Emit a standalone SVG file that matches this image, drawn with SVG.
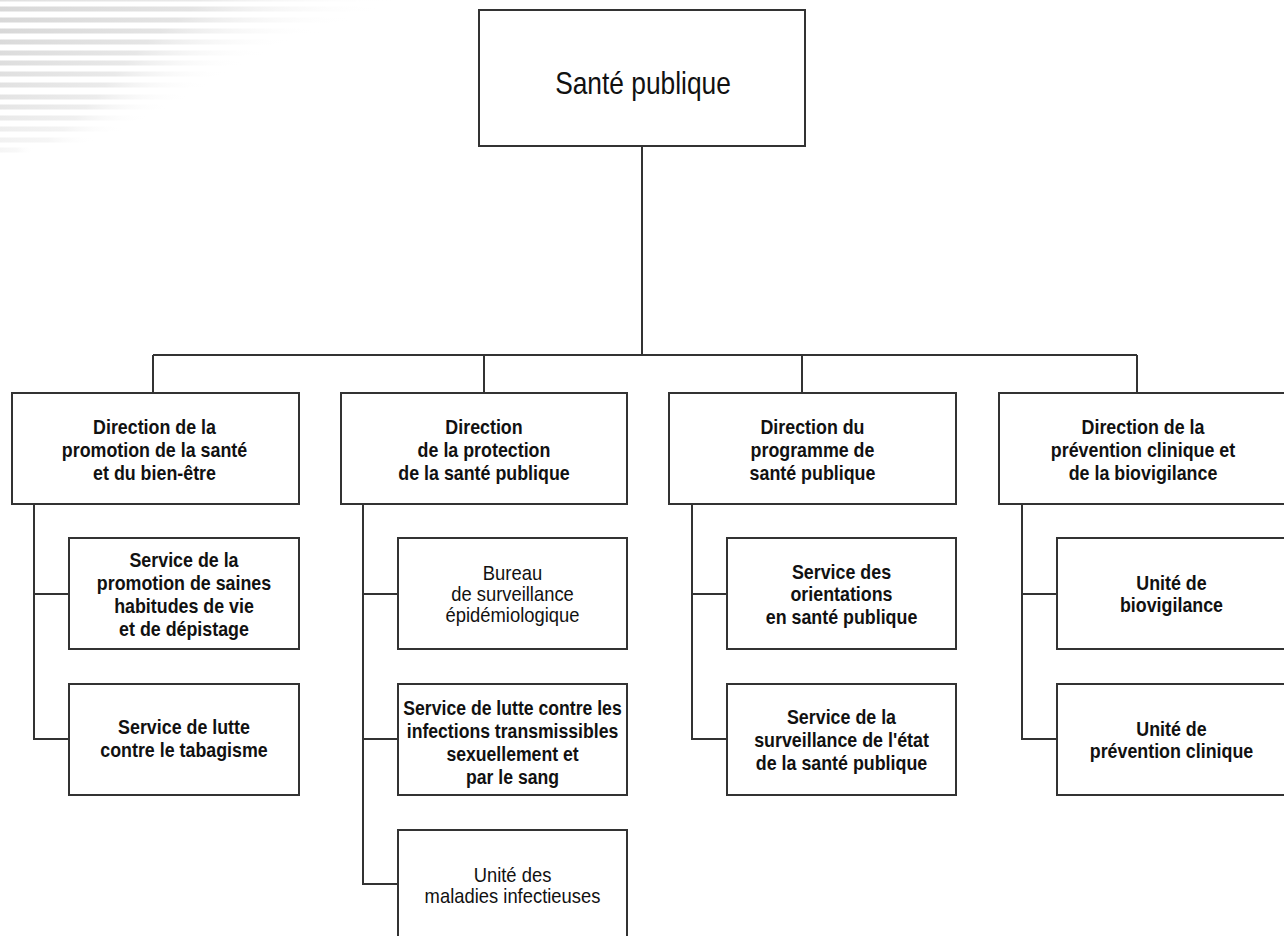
<svg xmlns="http://www.w3.org/2000/svg" width="1284" height="936" viewBox="0 0 1284 936">
<defs>
<linearGradient id="fade" x1="0" y1="0" x2="1" y2="0">
<stop offset="0" stop-color="#d8d8d8"/>
<stop offset="0.5" stop-color="#e4e4e4"/>
<stop offset="1" stop-color="#ffffff" stop-opacity="0"/>
</linearGradient>
<style>
.box{fill:#fff;stroke:#333;stroke-width:2}
.con{fill:none;stroke:#333;stroke-width:2}
.t{font-family:"Liberation Sans",Arial,sans-serif;fill:#111;text-anchor:middle}
.b{font-weight:bold;font-size:21px}
.r{font-size:20px}
.title{font-size:31px}
</style>
</defs>
<rect width="1284" height="936" fill="#fff"/>
<g id="stripes" fill="url(#fade)">
<rect x="0" y="0" width="400" height="1.5" opacity="0.8"/>
<rect x="0" y="6.5" width="385" height="5"/>
<rect x="0" y="17.5" width="355" height="5"/>
<rect x="0" y="28.5" width="322" height="5"/>
<rect x="0" y="39.5" width="294" height="5" opacity="0.95"/>
<rect x="0" y="50.5" width="270" height="5" opacity="0.9"/>
<rect x="0" y="60.5" width="250" height="5" opacity="0.85"/>
<rect x="0" y="71.5" width="230" height="5" opacity="0.8"/>
<rect x="0" y="82.5" width="210" height="5" opacity="0.75"/>
<rect x="0" y="94.5" width="192" height="5" opacity="0.7"/>
<rect x="0" y="104.5" width="172" height="5" opacity="0.65"/>
<rect x="0" y="115.5" width="150" height="5" opacity="0.55"/>
<rect x="0" y="126.5" width="126" height="5" opacity="0.45"/>
<rect x="0" y="137.5" width="96" height="5" opacity="0.35"/>
<rect x="0" y="147.5" width="34" height="5" opacity="0.25"/>
</g>
<g id="connectors" class="con">
<path d="M642 146V355M153 355H1137M153 355V393M484 355V393M802 355V393M1137 355V393"/>
<path d="M34 504V739H69M34 594H69"/>
<path d="M363 504V884H398M363 594H398M363 739H398"/>
<path d="M692 504V739H727M692 594H727"/>
<path d="M1022 504V739H1057M1022 594H1057"/>
</g>
<g id="n-sante">
<rect class="box" x="479" y="10" width="326" height="136"/>
<text class="t title" transform="matrix(0.85,0,0,1,643,0)"><tspan x="0" y="94">Santé publique</tspan></text>
</g>
<g id="n-dir1">
<rect class="box" x="12" y="393" width="287" height="111"/>
<text class="t b" transform="matrix(0.85,0,0,1,154.5,0)"><tspan x="0" y="434">Direction de la</tspan><tspan x="0" y="457">promotion de la santé</tspan><tspan x="0" y="480">et du bien-être</tspan></text>
</g>
<g id="n-dir2">
<rect class="box" x="341" y="393" width="286" height="111"/>
<text class="t b" transform="matrix(0.85,0,0,1,484,0)"><tspan x="0" y="434">Direction</tspan><tspan x="0" y="457">de la protection</tspan><tspan x="0" y="480">de la santé publique</tspan></text>
</g>
<g id="n-dir3">
<rect class="box" x="669" y="393" width="287" height="111"/>
<text class="t b" transform="matrix(0.85,0,0,1,812.5,0)"><tspan x="0" y="434">Direction du</tspan><tspan x="0" y="457">programme de</tspan><tspan x="0" y="480">santé publique</tspan></text>
</g>
<g id="n-dir4">
<rect class="box" x="999" y="393" width="288" height="111"/>
<text class="t b" transform="matrix(0.85,0,0,1,1143,0)"><tspan x="0" y="434">Direction de la</tspan><tspan x="0" y="457">prévention clinique et</tspan><tspan x="0" y="480">de la biovigilance</tspan></text>
</g>
<g id="n-c1a">
<rect class="box" x="69" y="538" width="230" height="111"/>
<text class="t b" transform="matrix(0.85,0,0,1,184,0)"><tspan x="0" y="567">Service de la</tspan><tspan x="0" y="590">promotion de saines</tspan><tspan x="0" y="613">habitudes de vie</tspan><tspan x="0" y="636">et de dépistage</tspan></text>
</g>
<g id="n-c1b">
<rect class="box" x="69" y="684" width="230" height="111"/>
<text class="t b" transform="matrix(0.85,0,0,1,184,0)"><tspan x="0" y="734">Service de lutte</tspan><tspan x="0" y="757">contre le tabagisme</tspan></text>
</g>
<g id="n-c2a">
<rect class="box" x="398" y="538" width="229" height="111"/>
<text class="t r" transform="matrix(0.92,0,0,1,512.5,0)"><tspan x="0" y="580">Bureau</tspan><tspan x="0" y="601">de surveillance</tspan><tspan x="0" y="622">épidémiologique</tspan></text>
</g>
<g id="n-c2b">
<rect class="box" x="398" y="684" width="229" height="111"/>
<text class="t b" transform="matrix(0.84,0,0,1,512.5,0)"><tspan x="0" y="715">Service de lutte contre les</tspan><tspan x="0" y="738">infections transmissibles</tspan><tspan x="0" y="761">sexuellement et</tspan><tspan x="0" y="784">par le sang</tspan></text>
</g>
<g id="n-c2c">
<rect class="box" x="398" y="830" width="229" height="111"/>
<text class="t r" transform="matrix(0.92,0,0,1,512.5,0)"><tspan x="0" y="882">Unité des</tspan><tspan x="0" y="903">maladies infectieuses</tspan></text>
</g>
<g id="n-c3a">
<rect class="box" x="727" y="538" width="229" height="111"/>
<text class="t b" transform="matrix(0.85,0,0,1,841.5,0)"><tspan x="0" y="579">Service des</tspan><tspan x="0" y="601">orientations</tspan><tspan x="0" y="624">en santé publique</tspan></text>
</g>
<g id="n-c3b">
<rect class="box" x="727" y="684" width="229" height="111"/>
<text class="t b" transform="matrix(0.85,0,0,1,841.5,0)"><tspan x="0" y="724">Service de la</tspan><tspan x="0" y="747">surveillance de l'état</tspan><tspan x="0" y="770">de la santé publique</tspan></text>
</g>
<g id="n-c4a">
<rect class="box" x="1057" y="538" width="230" height="111"/>
<text class="t b" transform="matrix(0.85,0,0,1,1171.5,0)"><tspan x="0" y="590">Unité de</tspan><tspan x="0" y="612">biovigilance</tspan></text>
</g>
<g id="n-c4b">
<rect class="box" x="1057" y="684" width="230" height="111"/>
<text class="t b" transform="matrix(0.85,0,0,1,1171.5,0)"><tspan x="0" y="736">Unité de</tspan><tspan x="0" y="758">prévention clinique</tspan></text>
</g>
</svg>
